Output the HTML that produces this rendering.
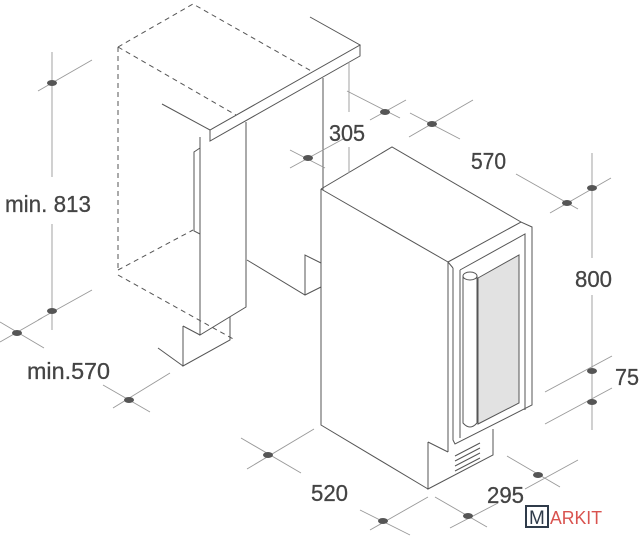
<!DOCTYPE html>
<html><head><style>
html,body{margin:0;padding:0;background:#fff;}
svg{display:block;}
text{font-family:"Liberation Sans Narrow","Liberation Sans",sans-serif;fill:#444;font-size:23px;stroke:#444;stroke-width:0.3;}
</style></head><body>
<svg width="639" height="539" viewBox="0 0 639 539" xmlns="http://www.w3.org/2000/svg">
<g stroke="#555" stroke-width="1" fill="none">
<g stroke-dasharray="5,4">
<path d="M118,47 L193,4 L313,72"/>
<path d="M118,47 L236,115"/>
<path d="M118,47 L118,272"/>
<path d="M118,270 L193,230"/>
<path d="M118,275 L235,340"/>
</g>
<path d="M162,104 L210,130 L360,45 L310,17"/>
<path d="M210,130 L210,141 L360,56 L360,45"/>
<path d="M323,78 L323,190"/>
<path d="M200,137 L200,335 L246,307 L246,122"/>
<path d="M200,148 L194,152 L194,231 L200,234"/>
<path d="M183,326 L183,366 L230,340 L230,317"/>
<path d="M183,326 L200,335"/>
<path d="M158,348 L183,366"/>
<path d="M247,260 L305,295 L321,287"/>
<path d="M305,295 L305,255 L321,263"/>
<path d="M321,189 L392,147 L521,222"/>
<path d="M321,189 L448,262 L448,452"/>
<path d="M321,189 L321,425 L428,489"/>
<path d="M428,442 L428,489 L493,455 L493,429"/>
<path d="M428,442 L448,452"/>
<path d="M448,262 L521,222 L532,227 L532,405 L455,444 L453,440 L453,268"/>
<path d="M448,262 L453,268"/>
<path d="M460,270 L525,234 L525,410"/>
<path d="M460,270 L460,438"/>
<path d="M478,278 L519,255 L519,403 L478,424 Z" fill="#e2e2e2"/>
<path d="M463,276 L463,423 Q470,431 477,423 L477,276"/>
<ellipse cx="470" cy="276" rx="7" ry="4" fill="#fff"/>
<path d="M455,456 L480,443 M455,461 L480,448 M455,466 L480,453 M455,471 L480,458"/>
</g>
<g stroke="#999" stroke-width="0.9" fill="none">
<path d="M52,52 L52,177 M52,224 L52,330"/>
<path d="M38,91 L92,60 M38,320 L92,290 M0,342 L42,318 M0,322 L44,348"/>
<path d="M103,385 L150,412 M113,408 L170,373"/>
<path d="M349,62 L349,112 M349,147 L349,173"/>
<path d="M290,150 L325,168 M290,168 L345,138"/>
<path d="M347,91 L400,118 M370,120 L406,100"/>
<path d="M410,113 L460,139 M409,137 L473,100"/>
<path d="M516,174 L578,209 M550,213 L611,178"/>
<path d="M592,153 L592,258 M592,295 L592,430"/>
<path d="M545,392 L612,356 M545,424 L612,388"/>
<path d="M241,438 L301,473 M247,469 L314,429"/>
<path d="M360,510 L410,535 M370,530 L428,497"/>
<path d="M435,497 L487,527 M450,528 L498,503"/>
<path d="M507,456 L560,487 M525,489 L578,460"/>
</g>
<g fill="#555">
<ellipse cx="52" cy="83" rx="5" ry="3"/>
<ellipse cx="52" cy="311" rx="5" ry="3"/>
<ellipse cx="17" cy="333" rx="5" ry="3"/>
<ellipse cx="129" cy="400" rx="5" ry="3"/>
<ellipse cx="308" cy="158" rx="5" ry="3"/>
<ellipse cx="385" cy="112" rx="5" ry="3"/>
<ellipse cx="432" cy="124" rx="5" ry="3"/>
<ellipse cx="567" cy="203" rx="5" ry="3"/>
<ellipse cx="592" cy="188" rx="5" ry="3"/>
<ellipse cx="592" cy="371" rx="5" ry="3"/>
<ellipse cx="592" cy="402" rx="5" ry="3"/>
<ellipse cx="268" cy="455" rx="5" ry="3"/>
<ellipse cx="383" cy="521" rx="5" ry="3"/>
<ellipse cx="468" cy="516" rx="5" ry="3"/>
<ellipse cx="538" cy="475" rx="5" ry="3"/>
</g>
<text x="5" y="212" textLength="86" lengthAdjust="spacingAndGlyphs">min. 813</text>
<text x="27" y="379" textLength="83" lengthAdjust="spacingAndGlyphs">min.570</text>
<text x="329" y="141" textLength="36" lengthAdjust="spacingAndGlyphs">305</text>
<text x="471" y="169" textLength="35" lengthAdjust="spacingAndGlyphs">570</text>
<text x="575" y="287" textLength="37" lengthAdjust="spacingAndGlyphs">800</text>
<text x="615" y="385" textLength="24" lengthAdjust="spacingAndGlyphs">75</text>
<text x="311" y="501" textLength="37" lengthAdjust="spacingAndGlyphs">520</text>
<text x="487" y="503" textLength="37" lengthAdjust="spacingAndGlyphs">295</text>
<rect x="526" y="506" width="22" height="21" fill="#fff" stroke="#2f3b4a" stroke-width="2"/>
<text x="529" y="524" style="font-size:19px;fill:#2f3b4a;stroke:none;font-family:'Liberation Sans',sans-serif">M</text>
<text x="550" y="524" style="font-size:18px;fill:#d9534f;stroke:none;font-family:'Liberation Sans',sans-serif" textLength="52" lengthAdjust="spacingAndGlyphs">ARKIT</text>
</svg>
</body></html>
